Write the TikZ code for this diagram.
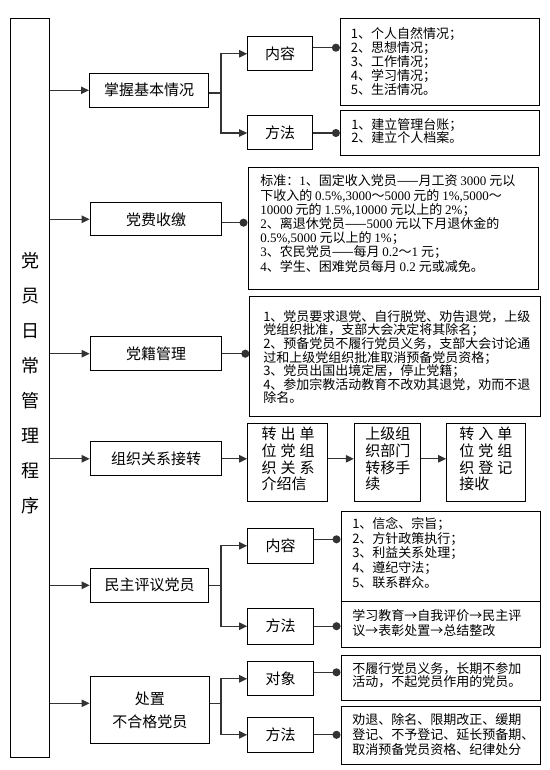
\documentclass[tikz,border=0pt]{standalone}
\usepackage{fontspec}
\setmainfont{Noto Sans CJK SC}
\newfontfamily\lat{Liberation Serif}
\usetikzlibrary{arrows.meta}
\newcommand\lblf{\fontsize{11.25pt}{13pt}\selectfont}
\newcommand\txtf[1]{\fontsize{9.75pt}{#1pt}\selectfont}
\newcommand\spr[3]{\makebox[39.75pt][l]{#1\hfill#2\hfill#3}}
\begin{document}
\begin{tikzpicture}[x=0.75pt,y=-0.75pt,
  bx/.style 2 args={draw=black, line width=0.75pt, minimum width=#1*0.75pt, minimum height=#2*0.75pt, inner sep=0pt, align=center, font=\lblf},
  tx/.style={anchor=north west, inner sep=0pt, align=left},
  arr/.style={draw=black!80, line width=0.9pt, -{Triangle[length=6pt,width=5.5pt]}},
  ln/.style={draw=black!80, line width=0.9pt},
  dl/.style={draw=black!80, line width=0.9pt, -{Circle[length=6pt]}}]
\useasboundingbox (0,0) rectangle (549,770);

% left column
\node[bx={39.3}{738.7}] (L) at (30.15,388.35) {};
\node[inner sep=0pt, anchor=north, align=center, font=\fontsize{13.5pt}{26.3pt}\selectfont] (title) at (30.15,251.7) {党\\员\\日\\常\\管\\理\\程\\序};

% level 1
\node[bx={119.3}{34}] (A1) at (149.15,90.3) {掌握基本情况};
\node[bx={131.6}{33.3}] (A2) at (156,219.3) {党费收缴};
\node[bx={131.6}{34}] (A3) at (156,353.7) {党籍管理};
\node[bx={131.6}{34.3}] (A4) at (156,458.8) {组织关系接转};
\node[bx={118.6}{34}] (A5) at (149.5,585.3) {民主评议党员};
\node[bx={119.3}{67.3}, font=\fontsize{11.25pt}{17.25pt}\selectfont] (A6) at (149.8,710.3) {处置\\不合格党员};

% level 2
\node[bx={65}{34.3}] (B1) at (280.2,53.8) {内容};
\node[bx={65}{34}] (B2) at (280.2,133) {方法};
\node[bx={65.6}{35}] (B5a) at (280.5,545.8) {内容};
\node[bx={65.6}{35.7}] (B5b) at (280.5,626.2) {方法};
\node[bx={65.6}{34.3}] (B6a) at (280.5,678.8) {对象};
\node[bx={65.6}{35}] (B6b) at (280.5,734.8) {方法};

% content boxes
\node[bx={199.2}{86.5}] (C1) at (440,62.25) {};
\node[bx={199.2}{45.3}] (C2) at (440,133.35) {};
\node[bx={290.6}{122}] (D2) at (393.3,228.3) {};
\node[bx={290.6}{120}] (D3) at (395.1,356) {};
\node[bx={79.7}{77.7}] (E1) at (287.55,462.15) {};
\node[bx={66}{77.7}] (E2) at (387.4,462.15) {};
\node[bx={78.6}{77.7}] (E3) at (486,462.15) {};
\node[bx={199.4}{90}] (C5a) at (440.7,556.7) {};
\node[bx={199.4}{46}] (C5b) at (440.7,624.7) {};
\node[bx={199.4}{45}] (C6a) at (440.7,677.5) {};
\node[bx={199.4}{58}] (C6b) at (440.7,735) {};

% texts
\node[tx, font=\txtf{10.5}] (C1t) at (350.7,27.3) {1、个人自然情况；\\2、思想情况；\\3、工作情况；\\4、学习情况；\\5、生活情况。};
\node[tx, font=\txtf{10.3}] (C2t) at (351,118) {1、建立管理台账；\\2、建立个人档案。};
\node[tx, font=\txtf{10.65}] (D2t) at (260,174.7) {标准：{\lat 1}、固定收入党员——月工资 {\lat 3000} 元以\\下收入的 {\lat 0.5\%,3000}～{\lat 5000} 元的 {\lat 1\%,5000}～\\{\lat 10000} 元的 {\lat 1.5\%,10000} 元以上的 {\lat 2\%}；\\{\lat 2}、离退休党员——{\lat 5000} 元以下月退休金的\\{\lat 0.5\%,5000} 元以上的 {\lat 1\%}；\\{\lat 3}、农民党员——每月 {\lat 0.2}～{\lat 1} 元；\\{\lat 4}、学生、困难党员每月 {\lat 0.2} 元或减免。};
\node[tx, font=\txtf{10.2}] (D3t) at (263,310) {1、党员要求退党、自行脱党、劝告退党，上级\\党组织批准，支部大会决定将其除名；\\2、预备党员不履行党员义务，支部大会讨论通\\过和上级党组织批准取消预备党员资格；\\3、党员出国出境定居，停止党籍；\\4、参加宗教活动教育不改劝其退党，劝而不退\\除名。};
\node[tx, font=\fontsize{11.25pt}{12.5pt}\selectfont] (E1t) at (261.4,427) {\spr{转}{出}{单}\\\spr{位}{党}{组}\\\spr{织}{关}{系}\\介绍信};
\node[tx, font=\fontsize{11.25pt}{12.5pt}\selectfont] (E2t) at (365,427) {上级组\\织部门\\转移手\\续};
\node[tx, font=\fontsize{11.25pt}{12.5pt}\selectfont] (E3t) at (459,427) {\spr{转}{入}{单}\\\spr{位}{党}{组}\\\spr{织}{登}{记}\\接收};
\node[tx, font=\txtf{10.95}] (C5at) at (352,517.3) {1、信念、宗旨；\\2、方针政策执行；\\3、利益关系处理；\\4、遵纪守法；\\5、联系群众。};
\node[tx, font=\txtf{11.25}] (C5bt) at (352,609) {学习教育→自我评价→民主评\\议→表彰处置→总结整改};
\node[tx, font=\txtf{10}] (C6at) at (352,662.3) {不履行党员义务，长期不参加\\活动，不起党员作用的党员。};
\node[tx, font=\txtf{11.2}] (C6bt) at (352,713.3) {劝退、除名、限期改正、缓期\\登记、不予登记、延长预备期、\\取消预备党员资格、纪律处分};

% junctions
\coordinate (j1) at (221,93);
\coordinate (j5) at (221,585.3);
\coordinate (j6) at (221,703.3);
\coordinate (d1) at (330,47.7);
\coordinate (d2) at (240,222.7);
\coordinate (d5) at (330,539.3);
\coordinate (d6) at (330,672.3);

% left arrows
\draw[arr] (L.east |- A1.west) -- (A1.west);
\draw[arr] (L.east |- A2.west) -- (A2.west);
\draw[arr] (L.east |- A3.west) -- (A3.west);
\draw[arr] (L.east |- A4.west) -- (A4.west);
\draw[arr] (L.east |- A5.west) -- (A5.west);
\draw[arr] (L.east |- j6) -- (A6.west |- j6);

% row 1
\draw[ln] (A1.east |- j1) -- (j1);
\draw[arr] (j1) |- (B1.west);
\draw[arr] (j1) |- (B2.west);
\draw[dl] (B1.east |- d1) -- (C1.west |- d1);
\draw[dl] (B2.east) -- (C2.west |- B2.east);
% row 2, 3
\draw[dl] (A2.east |- d2) -- (D2.west |- d2);
\draw[dl] (A3.east) -- (D3.west |- A3.east);
% row 4
\draw[arr] (A4.east) -- (E1.west |- A4.east);
\draw[arr] (E1.east |- A4.east) -- (E2.west |- A4.east);
\draw[arr] (E2.east |- A4.east) -- (E3.west |- A4.east);
% row 5
\draw[ln] (A5.east) -- (j5);
\draw[arr] (j5) |- (B5a.west);
\draw[arr] (j5) |- (B5b.west);
\draw[dl] (B5a.east |- d5) -- (C5a.west |- d5);
\draw[dl] (B5b.east) -- (C5b.west |- B5b.east);
% row 6
\draw[ln] (A6.east |- j6) -- (j6);
\draw[arr] (j6) |- (B6a.west);
\draw[arr] (j6) |- (B6b.west);
\draw[dl] (B6a.east |- d6) -- (C6a.west |- d6);
\draw[dl] (B6b.east) -- (C6b.west |- B6b.east);
\end{tikzpicture}
\end{document}
